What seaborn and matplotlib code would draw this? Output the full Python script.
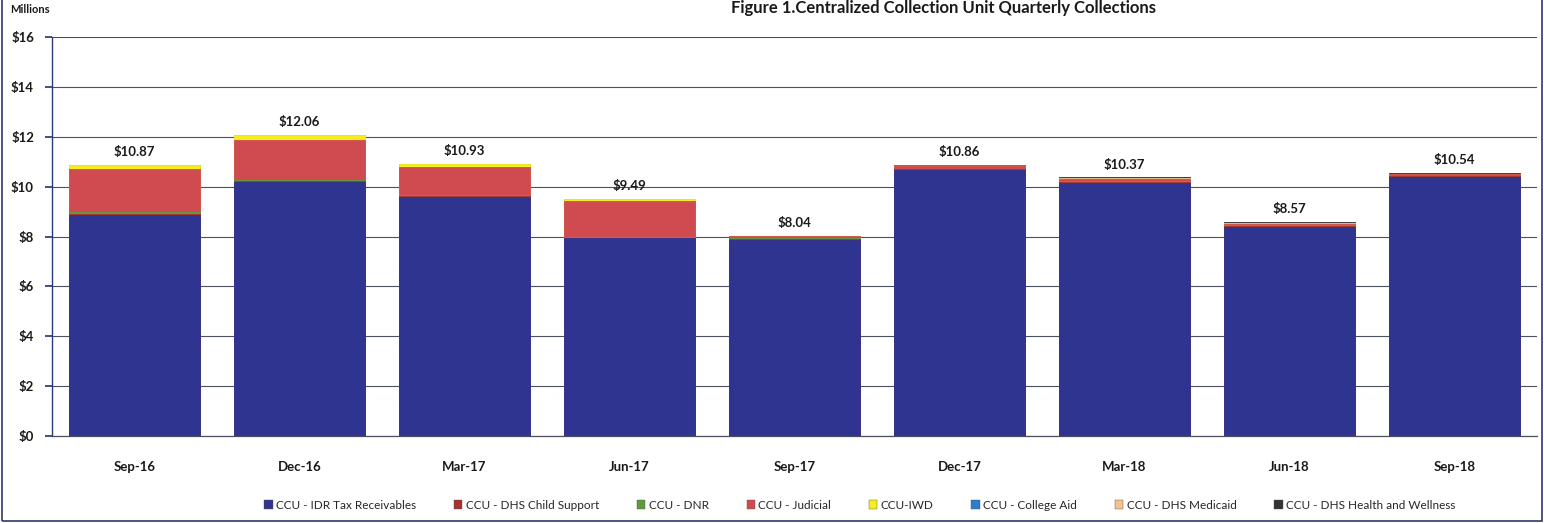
import matplotlib
matplotlib.use("Agg")
import matplotlib.pyplot as plt
import seaborn as sns
import numpy as np
import pandas as pd
from matplotlib.patches import Rectangle

quarters = ["Sep-16", "Dec-16", "Mar-17", "Jun-17", "Sep-17", "Dec-17", "Mar-18", "Jun-18", "Sep-18"]
idr_tax = [8.86, 10.18, 9.58, 7.94, 7.86, 10.66, 10.15, 8.38, 10.38]
dhs_child_support = [0.06, 0.05, 0.05, 0.02, 0.04, 0.04, 0.05, 0.04, 0.04]
dnr = [0.08, 0.03, 0.03, 0.01, 0.03, 0.02, 0.04, 0.04, 0.01]
judicial = [1.70, 1.60, 1.13, 1.45, 0.08, 0.12, 0.08, 0.06, 0.08]
iwd = [0.17, 0.20, 0.14, 0.07, 0.00, 0.00, 0.00, 0.00, 0.00]
college_aid = [0.00, 0.00, 0.00, 0.00, 0.03, 0.02, 0.00, 0.00, 0.00]
dhs_medicaid = [0.00, 0.00, 0.00, 0.00, 0.00, 0.00, 0.02, 0.02, 0.01]
dhs_health_wellness = [0.00, 0.00, 0.00, 0.00, 0.00, 0.00, 0.03, 0.03, 0.02]
totals = [10.87, 12.06, 10.93, 9.49, 8.04, 10.86, 10.37, 8.57, 10.54]

series_names = ["CCU - IDR Tax Receivables", "CCU - DHS Child Support", "CCU - DNR", "CCU - Judicial",
                "CCU-IWD", "CCU - College Aid", "CCU - DHS Medicaid", "CCU - DHS Health and Wellness"]
series_values = [idr_tax, dhs_child_support, dnr, judicial, iwd, college_aid, dhs_medicaid, dhs_health_wellness]
colors = ["#2F3490", "#A8322F", "#5E9B3C", "#CF4B50", "#F7EC1C", "#2A7FD4", "#F2C38E", "#333333"]

sns.set_theme(style="white")
plt.rcParams["font.family"] = ["Lato", "DejaVu Sans"]

fig = plt.figure(figsize=(15.44, 5.23), dpi=100)
ax = fig.add_axes([0.0337, 0.1663, 0.9618, 0.7627])

data = np.array(series_values)
cum = np.cumsum(data, axis=0)
for i in range(len(series_names) - 1, -1, -1):
    df = pd.DataFrame({"quarter": quarters, "value": cum[i]})
    sns.barplot(data=df, x="quarter", y="value", color=colors[i], width=0.79,
                saturation=1, ax=ax, edgecolor=colors[i], linewidth=0.6, zorder=3)

for xi, t in enumerate(totals):
    ax.annotate(f"${t:.2f}", (xi, t), xytext=(0, 5), textcoords="offset points",
                ha="center", va="bottom", fontsize=9.5, fontweight="bold", color="#1a1a1a")

ax.set_ylim(0, 16)
ax.set_xlim(-0.5, 8.5)
ax.set_yticks(np.arange(0, 17, 2))
ax.set_yticklabels([f"${v}" for v in range(0, 17, 2)], fontsize=9.5, fontweight="bold", color="#1a1a1a")
ax.set_xticks(range(len(quarters)))
ax.set_xticklabels(quarters, fontsize=9.5, fontweight="bold", color="#1a1a1a")
ax.set_xlabel("")
ax.set_ylabel("")
ax.yaxis.grid(True, color="#4a5060", linewidth=0.8, zorder=0)
ax.set_axisbelow(True)
for s in ["top", "right"]:
    ax.spines[s].set_visible(False)
ax.spines["left"].set_color("#2b3a7a")
ax.spines["left"].set_linewidth(1.0)
ax.spines["bottom"].set_color("#4a5060")
ax.spines["bottom"].set_linewidth(0.9)
ax.tick_params(axis="y", which="both", left=True, length=5, color="#2b3a7a", pad=8)
ax.tick_params(axis="x", which="both", bottom=False, pad=12)

fig.text(0.0065, 0.981, "Millions", fontsize=8, fontweight="bold", ha="left", va="center", color="#1a1a1a")
fig.text(0.611, 0.984, "Figure 1.Centralized Collection Unit Quarterly Collections", fontsize=12,
         fontweight="bold", ha="center", va="center", color="#1a1a1a")

handles = [Rectangle((0, 0), 1, 1, facecolor=c, edgecolor="#555555", linewidth=0.3) for c in colors]
fig.legend(handles, series_names, loc="center", bbox_to_anchor=(0.557, 0.034), ncol=8, frameon=False,
           fontsize=8.5, handlelength=0.7, handleheight=0.7, handletextpad=0.3, columnspacing=3.2)

fig.patches.append(Rectangle((0.001, 0.003), 0.998, 1.2, transform=fig.transFigure, fill=False,
                             edgecolor="#2b3a6a", linewidth=1.2))

fig.savefig("out.png", dpi=100)
